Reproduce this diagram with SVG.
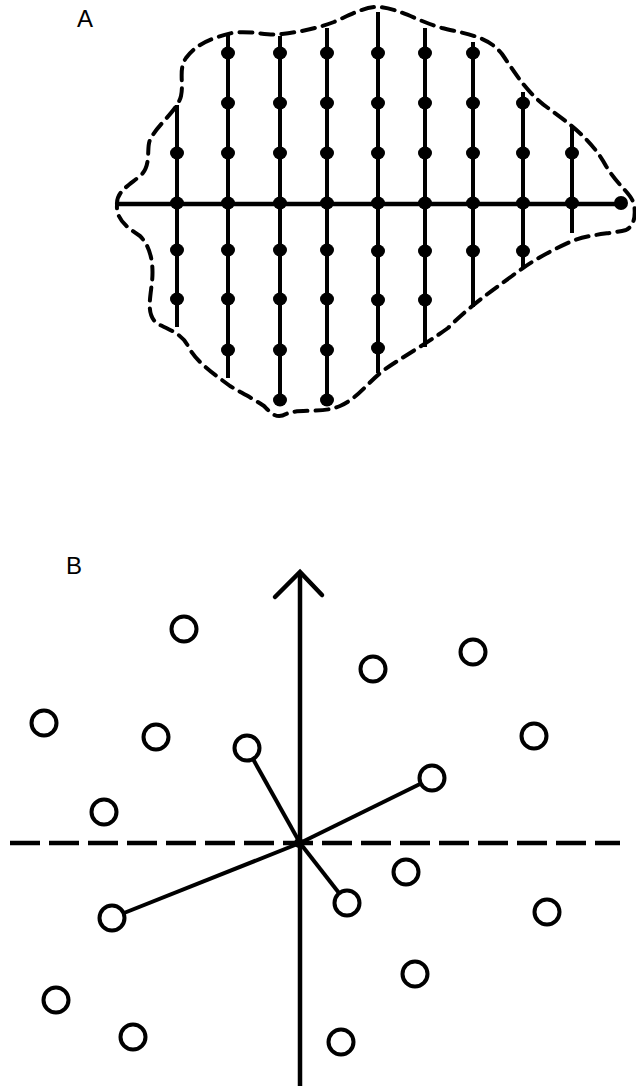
<svg xmlns="http://www.w3.org/2000/svg" width="636" height="1089" viewBox="0 0 636 1089">
<style>
.lbl{font-family:"Liberation Sans",Arial,sans-serif;font-size:24px;fill:#000}
.bound{fill:none;stroke:#000;stroke-width:4;stroke-dasharray:13 8;stroke-linecap:round;stroke-linejoin:round}
.col{stroke:#000;stroke-width:4;fill:none}
.axis{stroke:#000;stroke-width:4.5;fill:none}
.dot{fill:#000}
.pt{fill:#fff;stroke:#000;stroke-width:4}
.spoke{stroke:#000;stroke-width:4;fill:none}
.dash{stroke:#000;stroke-width:4.5;stroke-dasharray:30 9;fill:none}
</style>
<rect width="636" height="1089" fill="#fff"/>
<defs>
<ellipse id="d" rx="7" ry="6.5" class="dot"/>
</defs>
<g id="panelA">
<text class="lbl" x="77" y="27">A</text>
<g id="boundary">
<path class="bound" d="M117,205 C116,192 128,186 140,176 C152,166 146,148 150,140 C156,126 178,110 181,96 C184,82 178,70 186,58 C196,44 212,38 232,33 C250,30 266,36 282,34 C300,32 318,28 334,22 C352,14 366,6 380,7 C400,9 420,22 442,28 C466,34 488,36 502,54 C516,74 526,92 548,108 C570,124 592,140 606,166 C618,186 630,192 634,204 C636,216 634,226 626,230 C610,234 588,234 570,242 C548,252 530,262 512,276 C490,292 470,306 448,328 C426,344 404,356 384,370 C366,384 358,398 340,406 C322,414 300,408 286,414 C276,420 270,412 264,406 C252,398 240,392 230,386 C214,374 196,362 188,346 C182,334 170,330 158,324 C146,316 150,300 152,282 C154,262 150,246 140,236 C128,228 116,220 117,205"/>
</g>
<g id="grid">
<line class="axis" x1="117" y1="204" x2="622" y2="204"/>
<line class="col" x1="177" y1="105" x2="177" y2="327"/>
<line class="col" x1="228" y1="33" x2="228" y2="378"/>
<line class="col" x1="280" y1="36" x2="280" y2="400"/>
<line class="col" x1="327" y1="28" x2="327" y2="400"/>
<line class="col" x1="378" y1="12" x2="378" y2="373"/>
<line class="col" x1="425" y1="28" x2="425" y2="347"/>
<line class="col" x1="473" y1="42" x2="473" y2="307"/>
<line class="col" x1="523" y1="92" x2="523" y2="268"/>
<line class="col" x1="572" y1="127" x2="572" y2="233"/>
</g>
<g id="dots">
<use href="#d" x="177" y="153"/><use href="#d" x="177" y="203"/><use href="#d" x="177" y="250"/><use href="#d" x="177" y="299"/>
<use href="#d" x="228" y="53"/><use href="#d" x="228" y="103"/><use href="#d" x="228" y="153"/><use href="#d" x="228" y="203"/><use href="#d" x="228" y="250"/><use href="#d" x="228" y="299"/><use href="#d" x="228" y="350"/>
<use href="#d" x="280" y="53"/><use href="#d" x="280" y="103"/><use href="#d" x="280" y="153"/><use href="#d" x="280" y="203"/><use href="#d" x="280" y="250"/><use href="#d" x="280" y="299"/><use href="#d" x="280" y="350"/><use href="#d" x="280" y="400"/>
<use href="#d" x="327" y="53"/><use href="#d" x="327" y="103"/><use href="#d" x="327" y="153"/><use href="#d" x="327" y="203"/><use href="#d" x="327" y="250"/><use href="#d" x="327" y="299"/><use href="#d" x="327" y="350"/><use href="#d" x="327" y="400"/>
<use href="#d" x="378" y="53"/><use href="#d" x="378" y="103"/><use href="#d" x="378" y="153"/><use href="#d" x="378" y="203"/><use href="#d" x="378" y="251"/><use href="#d" x="378" y="300"/><use href="#d" x="378" y="348"/>
<use href="#d" x="425" y="53"/><use href="#d" x="425" y="103"/><use href="#d" x="425" y="153"/><use href="#d" x="425" y="203"/><use href="#d" x="425" y="251"/><use href="#d" x="425" y="300"/>
<use href="#d" x="473" y="53"/><use href="#d" x="473" y="103"/><use href="#d" x="473" y="153"/><use href="#d" x="473" y="203"/><use href="#d" x="473" y="251"/>
<use href="#d" x="523" y="103"/><use href="#d" x="523" y="153"/><use href="#d" x="523" y="203"/><use href="#d" x="523" y="251"/>
<use href="#d" x="572" y="153"/><use href="#d" x="572" y="203"/>
<circle class="dot" cx="621" cy="203" r="7"/>
</g>
</g>
<g id="panelB">
<text class="lbl" x="66" y="574">B</text>
<g id="connectors">
<line class="dash" x1="10" y1="843" x2="620" y2="843"/>
<line class="axis" x1="300" y1="574" x2="300" y2="1086"/>
<polyline class="axis" points="275,597 300,572 322,595" stroke-linecap="round"/>
<line class="spoke" x1="300" y1="843" x2="253" y2="759"/>
<line class="spoke" x1="300" y1="843" x2="420" y2="784"/>
<line class="spoke" x1="300" y1="843" x2="124" y2="913"/>
<line class="spoke" x1="300" y1="843" x2="339" y2="893"/>
<circle class="dot" cx="299" cy="843" r="5"/>
</g>
<g id="points">
<circle class="pt" cx="184" cy="629" r="12.5"/>
<circle class="pt" cx="44" cy="723" r="12.5"/>
<circle class="pt" cx="156" cy="737" r="12.5"/>
<circle class="pt" cx="247" cy="748" r="12.5"/>
<circle class="pt" cx="104" cy="812" r="12.5"/>
<circle class="pt" cx="373" cy="669" r="12.5"/>
<circle class="pt" cx="473" cy="652" r="12.5"/>
<circle class="pt" cx="534" cy="736" r="12.5"/>
<circle class="pt" cx="432" cy="778" r="12.5"/>
<circle class="pt" cx="112" cy="918" r="12.5"/>
<circle class="pt" cx="56" cy="1000" r="12.5"/>
<circle class="pt" cx="133" cy="1037" r="12.5"/>
<circle class="pt" cx="406" cy="872" r="12.5"/>
<circle class="pt" cx="347" cy="903" r="12.5"/>
<circle class="pt" cx="547" cy="912" r="12.5"/>
<circle class="pt" cx="415" cy="974" r="12.5"/>
<circle class="pt" cx="341" cy="1042" r="12.5"/>
</g>
</g>
</svg>
